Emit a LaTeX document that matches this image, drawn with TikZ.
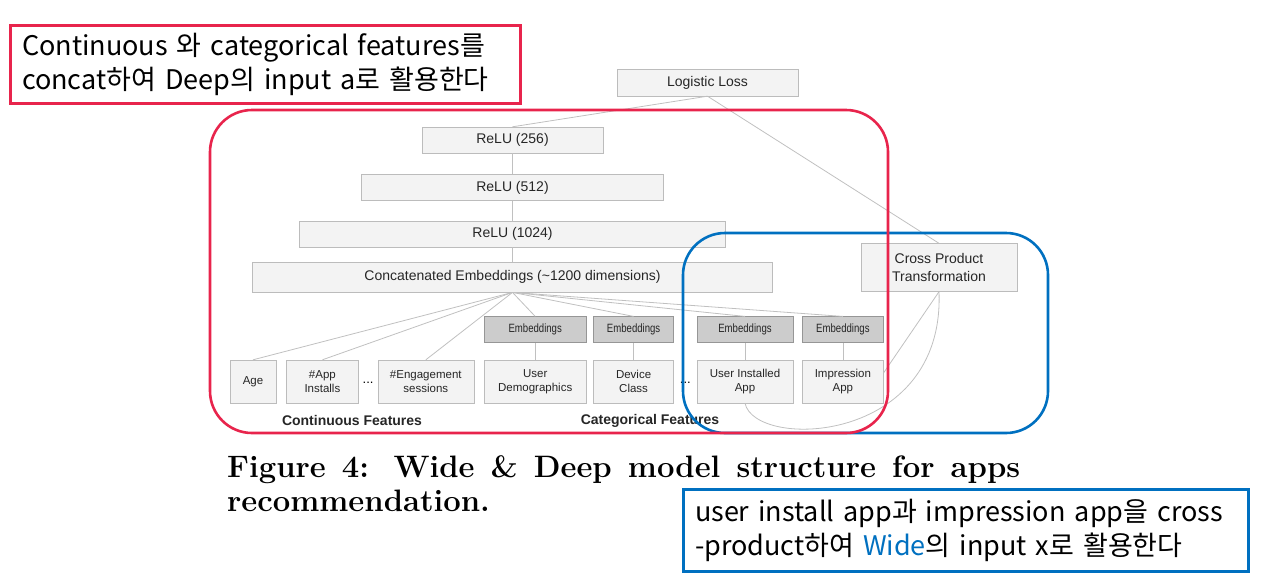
\documentclass[tikz,border=0pt]{standalone}
\usepackage{fontspec}
\usepackage{tikz}
\usepackage{xcolor}
\usetikzlibrary{shapes,arrows,positioning,calc}

\newfontfamily\arialfont{Liberation Sans}
\newfontfamily\krfont{Noto Sans CJK KR}
\definecolor{boxfill}{RGB}{243,243,243}
\definecolor{boxline}{RGB}{188,188,188}
\definecolor{embfill}{RGB}{204,204,204}
\definecolor{embline}{RGB}{150,150,150}
\definecolor{linkgray}{RGB}{192,192,192}
\definecolor{deepred}{RGB}{232,36,76}
\definecolor{wideblue}{RGB}{0,112,192}
\newcommand{\embtext}{\scalebox{0.8}[1]{Embeddings}}

\begin{document}
\begin{tikzpicture}[x=1pt, y=-1pt,
	layer/.style={rectangle, draw=boxline, fill=boxfill, inner sep=0pt, text=black!85, font=\arialfont\fontsize{14}{18}\selectfont},
	feat/.style={layer, minimum height=43pt, align=center, font=\arialfont\fontsize{11.5}{14}\selectfont},
	emb/.style={rectangle, draw=embline, fill=embfill, inner sep=0pt, minimum height=26pt, text=black!85, font=\arialfont\fontsize{12}{14}\selectfont},
	link/.style={draw=linkgray, line width=0.8pt},
	group/.style={rounded corners=42pt, line width=2.6pt},
	note/.style={rectangle, line width=3pt, inner xsep=12pt, inner ysep=3pt, align=left, font=\krfont\fontsize{27}{34}\selectfont}]
	\useasboundingbox (0,0) rectangle (1268,579);

	% deep part
	\node[layer, minimum width=181pt, minimum height=27pt] (loss) at (707.5,82.5) {Logistic Loss};
	\node[layer, minimum width=181pt, minimum height=26pt] (relu256) at (512.5,140) {ReLU (256)};
	\node[layer, minimum width=302pt, minimum height=26pt, below=21pt of relu256] (relu512) {ReLU (512)};
	\node[layer, minimum width=426pt, minimum height=26pt, below=20pt of relu512] (relu1024) {ReLU (1024)};
	\node[layer, minimum width=520pt, minimum height=30pt, below=15pt of relu1024] (concat) {Concatenated Embeddings (\textasciitilde 1200 dimensions)};

	% wide part
	\node[layer, minimum width=156pt, minimum height=48pt, align=center] (cross) at (939,267.5) {Cross Product\\Transformation};

	% features
	\node[feat, minimum width=46pt] (age) at (253,381.5) {Age};
	\node[feat, minimum width=72pt, right=10pt of age] (installs) {\#App\\Installs};
	\node[feat, minimum width=96pt, right=19pt of installs] (engage) {\#Engagement\\sessions};
	\node[feat, minimum width=102pt, right=10pt of engage] (demo) {User\\Demographics};
	\node[feat, minimum width=80pt, right=7pt of demo] (device) {Device\\Class};
	\node[feat, minimum width=96pt, right=23pt of device] (installed) {User Installed\\App};
	\node[feat, minimum width=81pt, right=9pt of installed] (impr) {Impression\\App};
	\node[font=\arialfont\fontsize{13}{14}\selectfont, inner sep=0pt, yshift=-1pt] (dots1) at ($(installs.east)!.5!(engage.west)$) {...};
	\node[font=\arialfont\fontsize{13}{14}\selectfont, inner sep=0pt, yshift=-1pt] (dots2) at ($(device.east)!.5!(installed.west)$) {...};

	\node[emb, minimum width=102pt, above=17pt of demo] (emb-demo) {\embtext};
	\node[emb, minimum width=80pt, above=17pt of device] (emb-device) {\embtext};
	\node[emb, minimum width=96pt, above=17pt of installed] (emb-installed) {\embtext};
	\node[emb, minimum width=81pt, above=17pt of impr] (emb-impr) {\embtext};

	\node[font=\arialfont\bfseries\fontsize{14}{16}\selectfont, text=black!85] (contlabel) at (352,420) {Continuous Features};
	\node[font=\arialfont\bfseries\fontsize{14}{16}\selectfont, text=black!85] (catlabel) at (650,421) {Categorical Features};

	% connectors
	\draw[link] (loss.south) -- (relu256.north);
	\draw[link] (loss.south) -- (cross.north);
	\draw[link] (relu256) -- (relu512);
	\draw[link] (relu512) -- (relu1024);
	\draw[link] (relu1024) -- (concat);
	\foreach \f in {age, installs, engage, emb-demo, emb-device, emb-installed, emb-impr}
		\draw[link] (concat.south) -- (\f.north);
	\foreach \e/\f in {emb-demo/demo, emb-device/device, emb-installed/installed, emb-impr/impr}
		\draw[link] (\e) -- (\f);
	\draw[link] (cross.south) -- (impr.12);
	\draw[link] (installed.south) .. controls (755,450) and (945,445) .. (cross.south);

	% highlight groups
	\draw[wideblue, group] (683,233) rectangle (1048,433);
	\draw[deepred, group] (210,110) rectangle (888,433);

	% caption
	\node[anchor=north west, align=left, inner sep=0pt, font=\bfseries\fontsize{31}{34}\selectfont] (caption) at (227,455) {\makebox[793pt][s]{Figure 4: Wide \& Deep model structure for apps}\\recommendation.};

	% notes
	\node[note, draw=deepred, text width=486pt, minimum height=78pt] (deepnote) at (265,64) {Continuous 와 categorical features를\\concat하여 Deep의 input a로 활용한다};
	\node[note, draw=wideblue, text width=541pt, minimum height=82pt] (widenote) at (965.5,530) {user install app과 impression app을 cross\\-product하여 \textcolor{wideblue}{Wide}의 input x로 활용한다};
\end{tikzpicture}
\end{document}
